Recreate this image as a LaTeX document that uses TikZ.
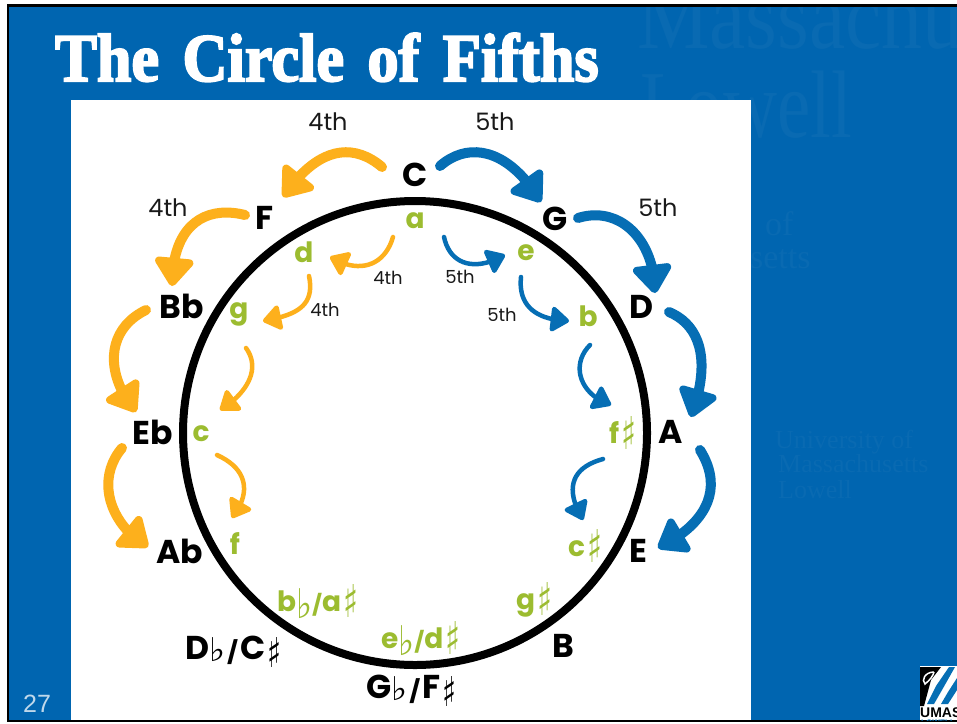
\documentclass[tikz,border=0pt]{standalone}
\usepackage{fontspec}
\usepackage{graphicx}
\usetikzlibrary{arrows.meta,bending}
\setmainfont{Poppins}
\newfontfamily\titlefont[WordSpace=1.5,Ligatures=NoCommon,BoldFeatures={FakeBold=3}]{Liberation Serif}
\newfontfamily\wmfont{Liberation Serif}
\newfontfamily\numfont{Liberation Sans}
\newfontfamily\symfont{DejaVu Sans}
\definecolor{slideblue}{RGB}{0,101,176}
\definecolor{wmblue}{RGB}{9,106,178}
\definecolor{arrowblue}{RGB}{6,110,180}
\definecolor{arroworange}{RGB}{253,176,28}
\definecolor{keygreen}{RGB}{156,188,48}
\newcommand{\acc}[4]{\raisebox{-#4}{\resizebox*{#2}{#3}{\mdseries\symfont\char"#1}}}
\newcommand{\flM}{\acc{266D}{16pt}{24pt}{2pt}}
\newcommand{\shM}{\kern2pt\acc{266F}{14pt}{30pt}{8pt}}
\newcommand{\flm}{\acc{266D}{16pt}{30pt}{7pt}}
\newcommand{\shm}{\kern2.5pt\acc{266F}{15pt}{33pt}{6pt}}
\newcommand{\slM}{\kern2pt\raisebox{-1pt}{\resizebox*{11pt}{25pt}{/}}\kern2pt}
\newcommand{\slm}{\raisebox{-1pt}{\resizebox*{10pt}{23pt}{/}}}
\tikzset{
  x=1pt,y=-1pt,
  bigfifth/.style={draw=arrowblue,line width=10pt,line cap=round,-{Triangle[length=31pt,width=44pt,round,flex]}},
  bigfourth/.style={draw=arroworange,line width=10pt,line cap=round,-{Triangle[length=31pt,width=44pt,round,flex]}},
  smallfifth/.style={draw=arrowblue,line width=4.5pt,line cap=round,-{Triangle[length=20pt,width=28pt,round,flex]}},
  smallfourth/.style={draw=arroworange,line width=4.5pt,line cap=round,-{Triangle[length=20pt,width=28pt,round,flex]}},
  major/.style={font=\fontsize{33}{35}\selectfont\bfseries,text=black,inner sep=0pt},
  minor/.style={font=\fontsize{28}{30}\selectfont\bfseries,text=keygreen,inner sep=0pt},
  bigint/.style={font=\fontsize{24}{26}\selectfont,text=black!90,inner sep=0pt},
  smallint/.style={font=\fontsize{18}{20}\selectfont,text=black!90,inner sep=0pt},
  wm/.style={font=\wmfont,text=wmblue,inner sep=0pt,anchor=base west}
}
\begin{document}
\begin{tikzpicture}
\useasboundingbox (0,0) rectangle (957,723);
\fill[white] (0,0) rectangle (957,723);
\fill[slideblue] (8,5) rectangle (957,721);
% watermark
\begin{scope}
\clip (8,5) rectangle (957,721);
\node[wm,font=\wmfont\fontsize{96}{96}\selectfont] (wmA) at (637,48) {\scalebox{.85}[1]{Massachu}};
\node[wm,font=\wmfont\fontsize{96}{96}\selectfont] (wmB) at (640,137) {\scalebox{.78}[1]{Lowell}};
\node[wm,font=\wmfont\fontsize{34}{34}\selectfont] (wmC) at (765,235) {of};
\node[wm,font=\wmfont\fontsize{34}{34}\selectfont] (wmD) at (614,268) {Massachusetts};
\node[wm,font=\wmfont\fontsize{26}{26}\selectfont] (wmE) at (775,448) {University of};
\node[wm,font=\wmfont\fontsize{26}{26}\selectfont] (wmF) at (778,472) {Massachusetts};
\node[wm,font=\wmfont\fontsize{26}{26}\selectfont] (wmG) at (778,498) {Lowell};
\end{scope}
\draw[black,line width=2.5pt] (957,5.5) -- (8,5.5) -- (8,721) -- (957,721);
% picture panel
\fill[white] (71,100) rectangle (751,720);
% title
\node[inner sep=0pt,anchor=base west,text=white,font=\titlefont\fontsize{68}{70}\selectfont\bfseries] (title) at (55,81) {\scalebox{.917}[1]{The Circle of Fifths}};
\node[inner sep=0pt,anchor=base west,text=white!75!slideblue,font=\numfont\fontsize{25}{26}\selectfont] (num) at (23,712) {27};
% circle
\node[draw=black,line width=8pt,circle,minimum size=464pt,inner sep=0pt] (ring) at (415,433) {};
% major keys
\node[major] (C) at (415,175) {C};
\node[major] (G) at (555,219) {G};
\node[major] (D) at (641,307) {D};
\node[major] (A) at (671,432) {A};
\node[major] (E) at (638,551) {E};
\node[major] (B) at (563,646) {B};
\node[major,anchor=base west] (Gb) at (366,698) {G\flM\slM F\shM};
\node[major,anchor=base west] (Db) at (185,659) {D\flM\slM C\shM};
\node[major] (Ab) at (180,551) {Ab};
\node[major] (Eb) at (153,432) {Eb};
\node[major] (Bb) at (182,306) {Bb};
\node[major] (F) at (265,218) {F};
% minor keys
\node[minor] (a) at (415,221) {a};
\node[minor] (e) at (526,253) {e};
\node[minor] (b) at (588,316) {b};
\node[minor,anchor=base west] (fs) at (609,443) {f\shm};
\node[minor,anchor=base west] (cs) at (568,556) {c\shm};
\node[minor,anchor=base west] (gs) at (516,609) {g\shm};
\node[minor,anchor=base west] (ebm) at (381,648) {e\flm\slm d\shm};
\node[minor,anchor=base west] (bbm) at (277,611) {b\flm\slm a\shm};
\node[minor] (f) at (235,544) {f};
\node[minor] (c) at (201,434) {c};
\node[minor] (g) at (239,314) {g};
\node[minor] (d) at (304,252) {d};
% interval labels
\node[bigint] (l1) at (328,122) {4th};
\node[bigint] (l2) at (495,122) {5th};
\node[bigint] (l3) at (168,208) {4th};
\node[bigint] (l4) at (658,208) {5th};
\node[smallint] (l5) at (388,278) {4th};
\node[smallint] (l6) at (460,277) {5th};
\node[smallint] (l7) at (325,310) {4th};
\node[smallint] (l8) at (502,315) {5th};
% arrow ends
\coordinate (s1) at (382,167); \coordinate (t1) at (283,197);
\coordinate (s2) at (245,215); \coordinate (t2) at (172,286);
\coordinate (s3) at (146,310); \coordinate (t3) at (136,412);
\coordinate (s4) at (122,448); \coordinate (t4) at (148,547);
\coordinate (s5) at (440,166); \coordinate (t5) at (541,202);
\coordinate (s6) at (578,218); \coordinate (t6) at (655,293);
\coordinate (s7) at (669,312); \coordinate (t7) at (691,417);
\coordinate (s8) at (700,450); \coordinate (t8) at (658,548);
\coordinate (s9) at (393,237); \coordinate (t9) at (330,257);
\coordinate (s10) at (309,276); \coordinate (t10) at (263,321);
\coordinate (s11) at (246,348); \coordinate (t11) at (220,410);
\coordinate (s12) at (217,455); \coordinate (t12) at (232,518);
\coordinate (s13) at (444,237); \coordinate (t13) at (505,255);
\coordinate (s14) at (521,277); \coordinate (t14) at (569,321);
\coordinate (s15) at (590,345); \coordinate (t15) at (611,405);
\coordinate (s16) at (603,459); \coordinate (t16) at (583,520);
% big arrows
\draw[bigfourth] (s1) .. controls (350,140) and (315,150) .. (t1);
\draw[bigfourth] (s2) .. controls (205,205) and (172,225) .. (t2);
\draw[bigfourth] (s3) .. controls (105,330) and (105,375) .. (t3);
\draw[bigfourth] (s4) .. controls (95,480) and (110,525) .. (t4);
\draw[bigfifth] (s5) .. controls (470,140) and (510,150) .. (t5);
\draw[bigfifth] (s6) .. controls (620,205) and (655,240) .. (t6);
\draw[bigfifth] (s7) .. controls (700,325) and (712,360) .. (t7);
\draw[bigfifth] (s8) .. controls (725,490) and (705,525) .. (t8);
% small arrows
\draw[smallfourth] (s9) .. controls (385,265) and (360,275) .. (t9);
\draw[smallfourth] (s10) .. controls (315,305) and (298,315) .. (t10);
\draw[smallfourth] (s11) .. controls (262,370) and (245,395) .. (t11);
\draw[smallfourth] (s12) .. controls (250,470) and (250,495) .. (t12);
\draw[smallfifth] (s13) .. controls (450,265) and (475,272) .. (t13);
\draw[smallfifth] (s14) .. controls (518,305) and (535,320) .. (t14);
\draw[smallfifth] (s15) .. controls (570,365) and (580,395) .. (t15);
\draw[smallfifth] (s16) .. controls (570,468) and (565,490) .. (t16);
% logo
\begin{scope}
\clip (920,666) rectangle (957,720);
\fill[white] (920,666) rectangle (957,720);
\fill[black] (920,667) -- (941,667) -- (931,680) -- (924,706) -- (920,706) -- cycle;
\draw[white,line width=1.5pt] (934,672) .. controls (925,672) and (921,680) .. (925,684) .. controls (930,680) and (933,676) .. (934,672);
\fill[arrowblue] (949,667) -- (955,667) -- (942,690) -- (934,704) -- (927,704) -- (936,686) -- cycle;
\fill[arrowblue] (957,678) -- (957,690) -- (948,704) -- (941,704) -- (948,692) -- cycle;
\node[inner sep=0pt,anchor=base west,text=black,font=\numfont\bfseries\fontsize{14}{14}\selectfont] (umass) at (920,717) {UMASS};
\node[inner sep=0pt,anchor=base west,text=arrowblue,font=\numfont\bfseries\fontsize{8}{8}\selectfont] (lowell) at (921,725) {LOWELL};
\end{scope}
\end{tikzpicture}
\end{document}
